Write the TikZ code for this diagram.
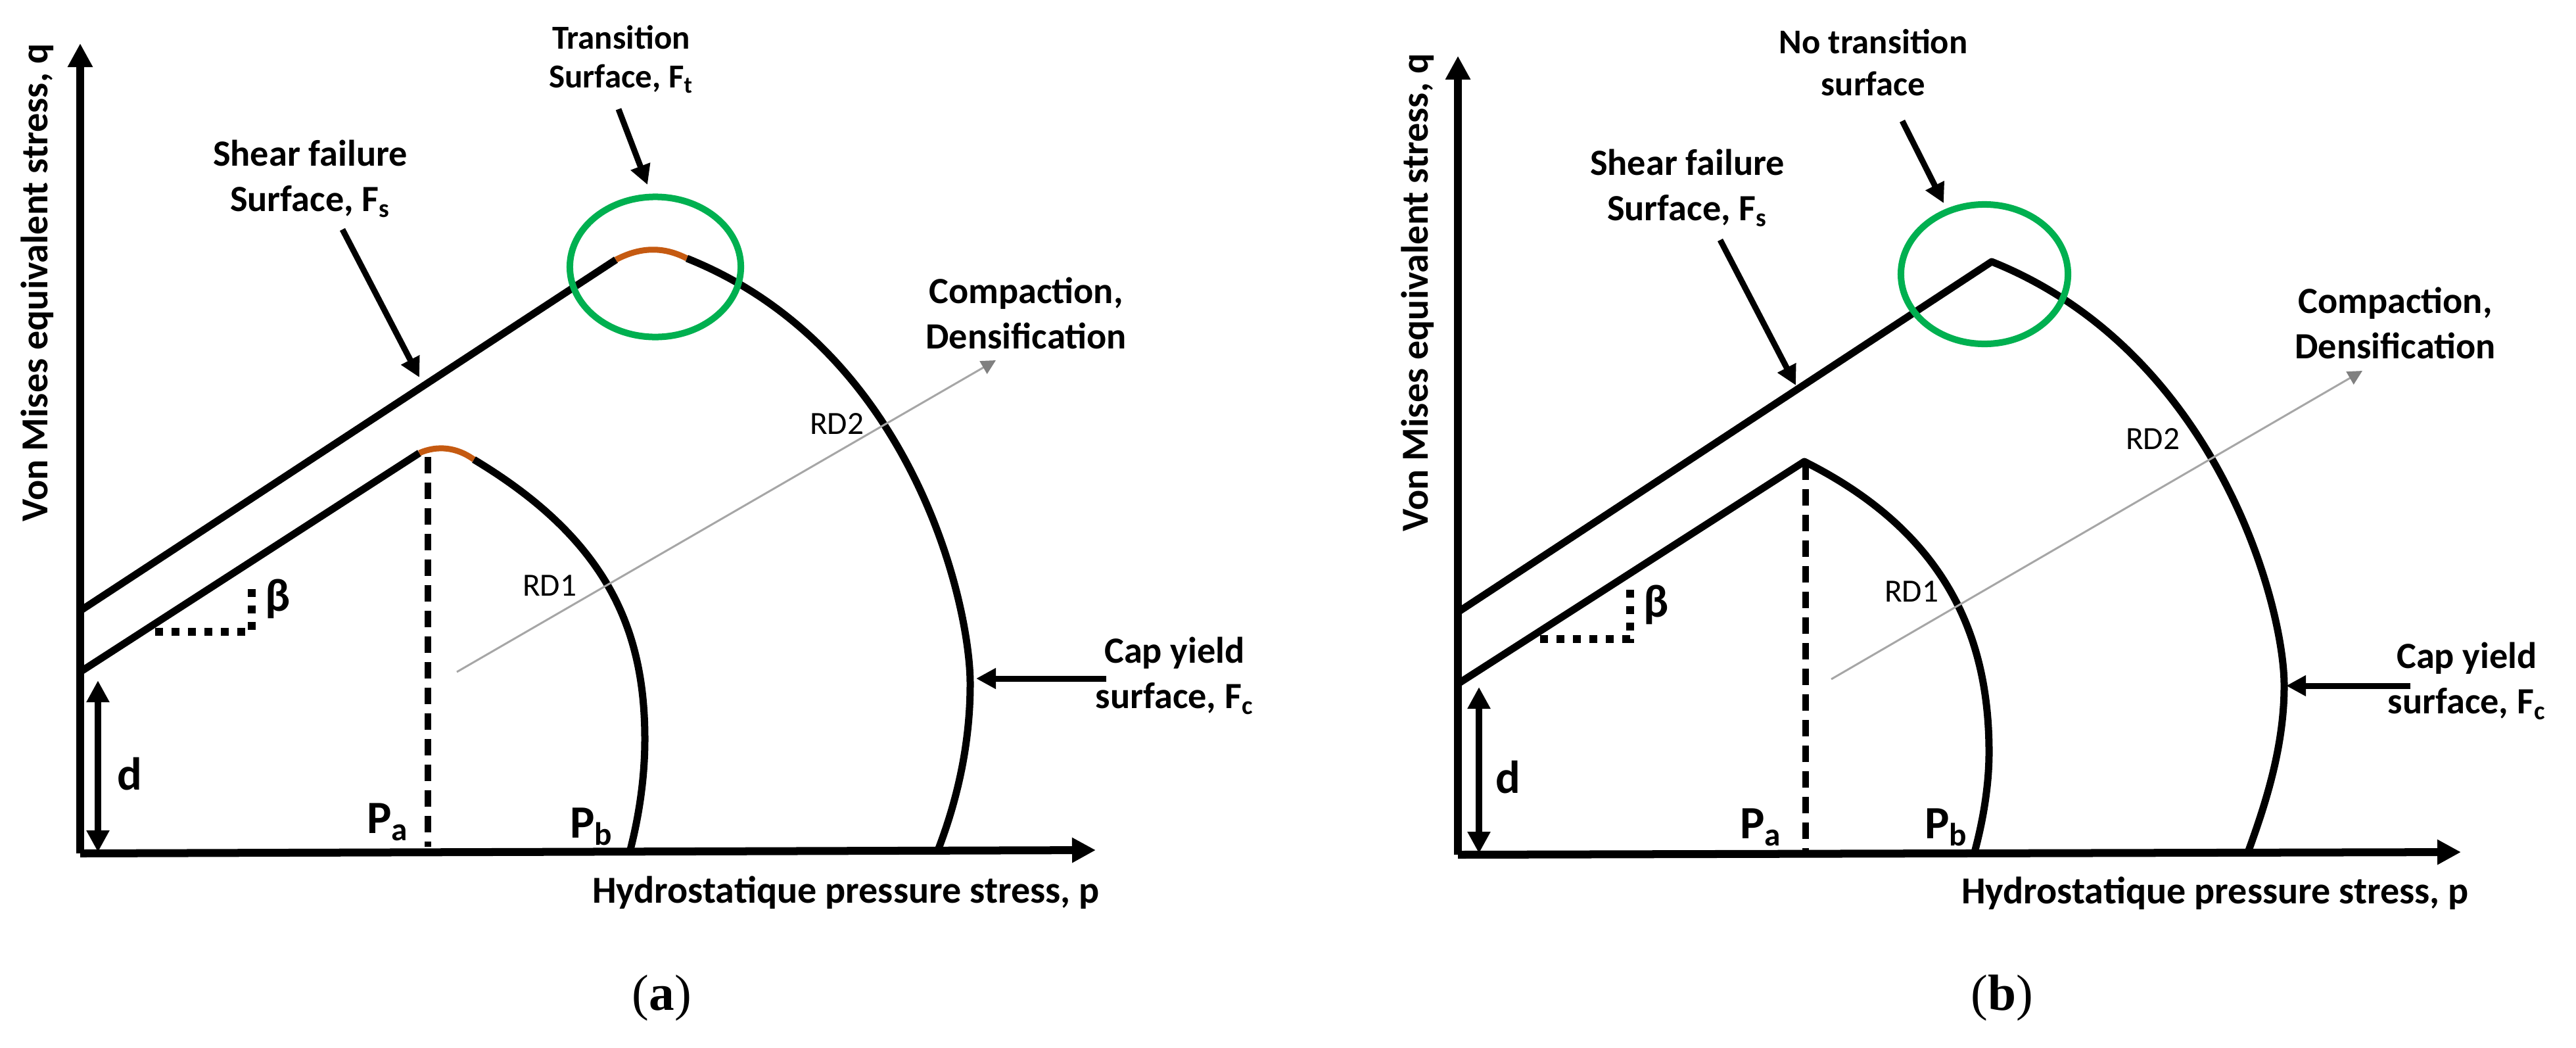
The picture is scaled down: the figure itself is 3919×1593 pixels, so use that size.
\documentclass[tikz,border=0pt]{standalone}
\usepackage{fontspec}
\setmainfont{Carlito}
\newfontfamily\capfont{Liberation Serif}
\usetikzlibrary{arrows.meta, shapes.geometric}
\definecolor{ringgreen}{HTML}{00B050}
\definecolor{caporange}{HTML}{C55A11}
\tikzset{
  lbl/.style={inner sep=0pt, align=center, font=\fontsize{16}{19.6}\selectfont\bfseries},
  toplbl/.style={lbl, font=\fontsize{15}{18}\selectfont\bfseries},
  axislbl/.style={lbl, font=\fontsize{16.5}{20}\selectfont\bfseries},
  rdlbl/.style={inner sep=0pt, font=\fontsize{14}{16}\selectfont},
  biglbl/.style={inner sep=0pt, font=\fontsize{20}{24}\selectfont\bfseries},
  capt/.style={inner sep=0pt, font=\fontsize{22}{26}\selectfont\capfont},
  axisline/.style={line width=0.12cm, -{Triangle[length=0.36cm, width=0.36cm]}},
  surfline/.style={line width=0.11cm, line join=round},
  orangeline/.style={line width=0.09cm, color=caporange},
  ring/.style={line width=0.10cm, color=ringgreen},
  callout/.style={line width=0.09cm, -{Triangle[length=0.30cm, width=0.30cm]}},
  capout/.style={line width=0.09cm, -{Triangle[length=0.30cm, width=0.30cm]}},
  flowline/.style={line width=0.03cm, color=black!35, -{Triangle[length=0.22cm, width=0.22cm, color=black!50]}},
  dline/.style={line width=0.10cm, {Triangle[length=0.33cm, width=0.33cm]}-{Triangle[length=0.33cm, width=0.33cm]}},
  dashline/.style={line width=0.10cm, dash pattern=on 0.25cm off 0.14cm},
  dotline/.style={line width=0.12cm, dash pattern=on 0.12cm off 0.13cm}
}
\begin{document}
\begin{tikzpicture}[x=0.01cm, y=-0.01cm]
    \useasboundingbox (0,0) rectangle (3919,1593);

    %panel a: axes
    \coordinate (aO) at (122,1298);
    \coordinate (aQ) at (122,66);
    \coordinate (aP) at (1667,1293);
    \draw[axisline] (aO) -- (aQ);
    \draw[axisline] (aO) -- (aP);

    %panel a: outer surface
    \coordinate (aOutA) at (122,929);
    \coordinate (aOutB) at (937,395);
    \coordinate (aOutC) at (1045,393);
    \coordinate (aOutD) at (1476,1040);
    \coordinate (aOutE) at (1427,1293);
    \draw[surfline] (aOutA) -- (aOutB);
    \draw[orangeline] (aOutB) .. controls (975,375) and (1010,375) .. (aOutC);
    \draw[surfline] (aOutC) .. controls (1385,529) and (1476,915) .. (aOutD) .. controls (1476,1135) and (1455,1220) .. (aOutE);

    %panel a: inner surface
    \coordinate (aInA) at (122,1022);
    \coordinate (aInB) at (638,689);
    \coordinate (aInC) at (721,699);
    \coordinate (aInD) at (981,1124);
    \coordinate (aInE) at (958,1296);
    \draw[surfline] (aInA) -- (aInB);
    \draw[orangeline] (aInB) .. controls (665,677) and (695,680) .. (aInC);
    \draw[surfline] (aInC) .. controls (921,819) and (981,954) .. (aInD) .. controls (981,1190) and (970,1250) .. (aInE);

    %panel a: dashed line, dots, d
    \coordinate (aDashA) at (651,695);
    \coordinate (aDashB) at (651,1288);
    \draw[dashline] (aDashA) -- (aDashB);
    \coordinate (aDotA) at (236,961);
    \coordinate (aDotB) at (383,961);
    \coordinate (aDotC) at (383,883);
    \draw[dotline] (aDotA) -- (aDotB) -- (aDotC);
    \coordinate (aDA) at (149,1035);
    \coordinate (aDB) at (149,1296);
    \draw[dline] (aDA) -- (aDB);

    %panel a: ring and arrows
    \node[ring, draw, ellipse, minimum width=2.60cm, minimum height=2.13cm, inner sep=0pt] (aRing) at (997,406) {};
    \coordinate (aFlowA) at (695,1022);
    \coordinate (aFlowB) at (1515,548);
    \draw[flowline] (aFlowA) -- (aFlowB);
    \coordinate (aShearA) at (521,349);
    \coordinate (aShearB) at (638,574);
    \draw[callout] (aShearA) -- (aShearB);
    \coordinate (aTransA) at (941,166);
    \coordinate (aTransB) at (985,281);
    \draw[callout] (aTransA) -- (aTransB);
    \coordinate (aCapA) at (1683,1032);
    \coordinate (aCapB) at (1485,1032);
    \draw[capout] (aCapA) -- (aCapB);

    %panel a: labels
    \node[axislbl, rotate=90] (aYlbl) at (57,430) {Von Mises equivalent stress, q};
    \node[axislbl] (aXlbl) at (1287,1358) {Hydrostatique pressure stress, p};
    \node[lbl] (aShearlbl) at (472,272) {Shear failure\\Surface, F\textsubscript{s}};
    \node[toplbl, font=\fontsize{14.5}{17}\selectfont\bfseries] (aTranslbl) at (945,90) {Transition\\Surface, F\textsubscript{t}};
    \node[lbl] (aComplbl) at (1561,476) {Compaction,\\Densification};
    \node[lbl] (aCaplbl) at (1787,1028) {Cap yield\\surface, F\textsubscript{c}};
    \node[rdlbl] (aRDone) at (836,891) {RD1};
    \node[rdlbl] (aRDtwo) at (1273,645) {RD2};
    \node[biglbl] (aBeta) at (423,911) {β};
    \node[biglbl] (aDlbl) at (197,1177) {d};
    \node[biglbl] (aPa) at (590,1250) {P\textsubscript{a}};
    \node[biglbl] (aPb) at (900,1257) {P\textsubscript{b}};
    \node[capt] (aCapt) at (1007,1518) {(\textbf{a})};

    %panel b: axes
    \coordinate (bO) at (2218,1300);
    \coordinate (bQ) at (2218,85);
    \coordinate (bP) at (3744,1296);
    \draw[axisline] (bO) -- (bQ);
    \draw[axisline] (bO) -- (bP);

    %panel b: the two surfaces
    \coordinate (bOutA) at (2218,931);
    \coordinate (bOutB) at (3030,398);
    \coordinate (bOutC) at (3475,1043);
    \coordinate (bOutD) at (3420,1296);
    \draw[surfline] (bOutA) -- (bOutB) .. controls (3370,534) and (3475,918) .. (bOutC) .. controls (3475,1135) and (3447,1222) .. (bOutD);
    \coordinate (bInA) at (2218,1040);
    \coordinate (bInB) at (2745,702);
    \coordinate (bInC) at (3026,1144);
    \coordinate (bInD) at (3004,1296);
    \draw[surfline] (bInA) -- (bInB) .. controls (2965,812) and (3026,974) .. (bInC) .. controls (3026,1200) and (3015,1255) .. (bInD);

    %panel b: dashed line, dots, d
    \coordinate (bDashA) at (2747,705);
    \coordinate (bDashB) at (2747,1293);
    \draw[dashline] (bDashA) -- (bDashB);
    \coordinate (bDotA) at (2343,972);
    \coordinate (bDotB) at (2480,972);
    \coordinate (bDotC) at (2480,894);
    \draw[dotline] (bDotA) -- (bDotB) -- (bDotC);
    \coordinate (bDA) at (2250,1045);
    \coordinate (bDB) at (2250,1298);
    \draw[dline] (bDA) -- (bDB);

    %panel b: ring and arrows
    \node[ring, draw, ellipse, minimum width=2.54cm, minimum height=2.12cm, inner sep=0pt] (bRing) at (3019,417) {};
    \coordinate (bFlowA) at (2786,1033);
    \coordinate (bFlowB) at (3594,564);
    \draw[flowline] (bFlowA) -- (bFlowB);
    \coordinate (bShearA) at (2617,365);
    \coordinate (bShearB) at (2732,586);
    \draw[callout] (bShearA) -- (bShearB);
    \coordinate (bNoA) at (2894,184);
    \coordinate (bNoB) at (2957,309);
    \draw[callout] (bNoA) -- (bNoB);
    \coordinate (bCapA) at (3667,1043);
    \coordinate (bCapB) at (3478,1043);
    \draw[capout] (bCapA) -- (bCapB);

    %panel b: labels
    \node[axislbl, rotate=90] (bYlbl) at (2157,445) {Von Mises equivalent stress, q};
    \node[axislbl] (bXlbl) at (3370,1359) {Hydrostatique pressure stress, p};
    \node[lbl] (bShearlbl) at (2567,286) {Shear failure\\Surface, F\textsubscript{s}};
    \node[toplbl] (bNolbl) at (2850,95) {No transition\\surface};
    \node[lbl] (bComplbl) at (3644,491) {Compaction,\\Densification};
    \node[lbl] (bCaplbl) at (3753,1036) {Cap yield\\surface, F\textsubscript{c}};
    \node[rdlbl] (bRDone) at (2908,900) {RD1};
    \node[rdlbl] (bRDtwo) at (3275,668) {RD2};
    \node[biglbl] (bBeta) at (2520,920) {β};
    \node[biglbl] (bDlbl) at (2294,1182) {d};
    \node[biglbl] (bPa) at (2679,1258) {P\textsubscript{a}};
    \node[biglbl] (bPb) at (2961,1258) {P\textsubscript{b}};
    \node[capt] (bCapt) at (3046,1518) {(\textbf{b})};
\end{tikzpicture}
\end{document}
